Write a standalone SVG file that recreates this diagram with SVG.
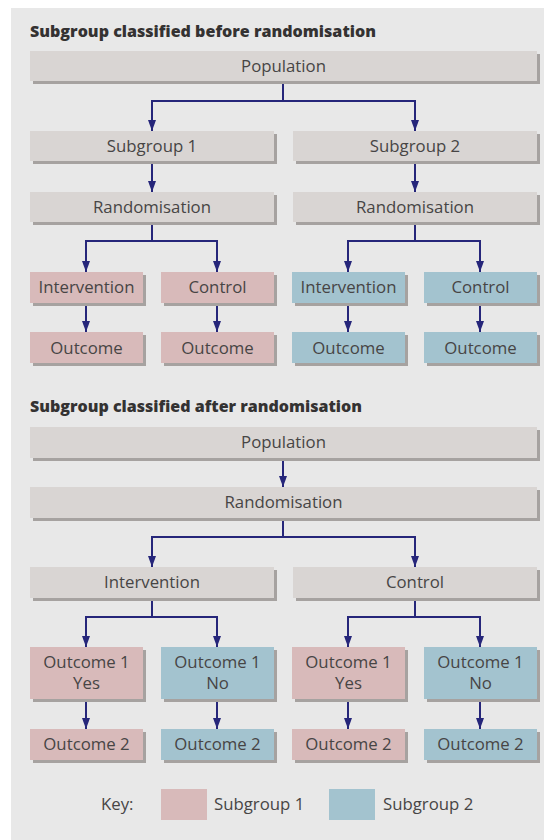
<svg xmlns="http://www.w3.org/2000/svg" width="544" height="840" viewBox="0 0 544 840">
<defs>
<marker id="ah" markerUnits="userSpaceOnUse" markerWidth="12" markerHeight="9" refX="11" refY="4" orient="auto" viewBox="0 0 12 8">
<path d="M0,0 L11,4 L0,8 Z" fill="#26267a"/>
</marker>
<style>
.bg{fill:#e8e8e8}
.sh{fill:#a6a2a0}
.g{fill:#d9d5d3}
.p{fill:#d8baba}
.b{fill:#a3c3cf}
.t{font-family:"Open Sans","Lato","Liberation Sans",sans-serif;font-size:16.8px;fill:#474545;text-anchor:middle}
.k{font-family:"Open Sans","Lato","Liberation Sans",sans-serif;font-size:16.8px;fill:#474545}
.h{font-family:"Open Sans","Liberation Sans",sans-serif;font-size:16px;font-weight:900;fill:#343232}
.c{fill:none;stroke:#26267a;stroke-width:2}
.a{fill:none;stroke:#26267a;stroke-width:2;marker-end:url(#ah)}
</style>
</defs>
<rect class="bg" x="11" y="8" width="533" height="832"/>
<text class="h" x="30" y="37" textLength="346" lengthAdjust="spacingAndGlyphs">Subgroup classified before randomisation</text>
<text class="h" x="30" y="412" textLength="332" lengthAdjust="spacingAndGlyphs">Subgroup classified after randomisation</text>

<g id="connectors">
<path class="c" d="M283,81 V101 M152,101 H415"/>
<path class="a" d="M152,100 V131"/>
<path class="a" d="M415,100 V131"/>
<path class="a" d="M152,161 V192"/>
<path class="a" d="M415,161 V192"/>
<path class="c" d="M152,222 V241 M86,241 H218"/>
<path class="a" d="M86,240 V272"/>
<path class="a" d="M217,240 V272"/>
<path class="c" d="M415,222 V241 M348,241 H481"/>
<path class="a" d="M348,240 V272"/>
<path class="a" d="M480,240 V272"/>
<path class="a" d="M86,303 V332"/>
<path class="a" d="M217,303 V332"/>
<path class="a" d="M348,303 V332"/>
<path class="a" d="M480,303 V332"/>
<path class="a" d="M283,458 V487"/>
<path class="c" d="M283,518 V537 M152,537 H415"/>
<path class="a" d="M152,536 V567"/>
<path class="a" d="M415,536 V567"/>
<path class="c" d="M152,598 V617 M86,617 H218"/>
<path class="a" d="M86,616 V647"/>
<path class="a" d="M217,616 V647"/>
<path class="c" d="M415,598 V617 M348,617 H481"/>
<path class="a" d="M348,616 V647"/>
<path class="a" d="M480,616 V647"/>
<path class="a" d="M86,699 V729"/>
<path class="a" d="M217,699 V729"/>
<path class="a" d="M348,699 V729"/>
<path class="a" d="M480,699 V729"/>
</g>

<g id="pop1"><rect class="sh" x="33" y="54" width="507" height="30"/><rect class="g" x="30" y="51" width="507" height="30"/><text class="t" x="283.5" y="72">Population</text></g>
<g id="sub1"><rect class="sh" x="33" y="134" width="244" height="30"/><rect class="g" x="30" y="131" width="244" height="30"/><text class="t" x="152" y="152">Subgroup 1</text></g>
<g id="sub2"><rect class="sh" x="296" y="134" width="244" height="30"/><rect class="g" x="293" y="131" width="244" height="30"/><text class="t" x="415" y="152">Subgroup 2</text></g>
<g id="rand1"><rect class="sh" x="33" y="195" width="244" height="30"/><rect class="g" x="30" y="192" width="244" height="30"/><text class="t" x="152" y="213">Randomisation</text></g>
<g id="rand2"><rect class="sh" x="296" y="195" width="244" height="30"/><rect class="g" x="293" y="192" width="244" height="30"/><text class="t" x="415" y="213">Randomisation</text></g>
<g id="int1"><rect class="sh" x="33" y="275" width="113" height="31"/><rect class="p" x="30" y="272" width="113" height="31"/><text class="t" x="86.5" y="293">Intervention</text></g>
<g id="ctl1"><rect class="sh" x="164" y="275" width="113" height="31"/><rect class="p" x="161" y="272" width="113" height="31"/><text class="t" x="217.5" y="293">Control</text></g>
<g id="int2"><rect class="sh" x="295" y="275" width="113" height="31"/><rect class="b" x="292" y="272" width="113" height="31"/><text class="t" x="348.5" y="293">Intervention</text></g>
<g id="ctl2"><rect class="sh" x="427" y="275" width="113" height="31"/><rect class="b" x="424" y="272" width="113" height="31"/><text class="t" x="480.5" y="293">Control</text></g>
<g id="out1"><rect class="sh" x="33" y="335" width="113" height="31"/><rect class="p" x="30" y="332" width="113" height="31"/><text class="t" x="86.5" y="354">Outcome</text></g>
<g id="out2"><rect class="sh" x="164" y="335" width="113" height="31"/><rect class="p" x="161" y="332" width="113" height="31"/><text class="t" x="217.5" y="354">Outcome</text></g>
<g id="out3"><rect class="sh" x="295" y="335" width="113" height="31"/><rect class="b" x="292" y="332" width="113" height="31"/><text class="t" x="348.5" y="354">Outcome</text></g>
<g id="out4"><rect class="sh" x="427" y="335" width="113" height="31"/><rect class="b" x="424" y="332" width="113" height="31"/><text class="t" x="480.5" y="354">Outcome</text></g>

<g id="pop2"><rect class="sh" x="33" y="430" width="507" height="31"/><rect class="g" x="30" y="427" width="507" height="31"/><text class="t" x="283.5" y="448">Population</text></g>
<g id="rand3"><rect class="sh" x="33" y="490" width="507" height="31"/><rect class="g" x="30" y="487" width="507" height="31"/><text class="t" x="283.5" y="508">Randomisation</text></g>
<g id="int3"><rect class="sh" x="33" y="570" width="244" height="31"/><rect class="g" x="30" y="567" width="244" height="31"/><text class="t" x="152" y="588">Intervention</text></g>
<g id="ctl3"><rect class="sh" x="296" y="570" width="244" height="31"/><rect class="g" x="293" y="567" width="244" height="31"/><text class="t" x="415" y="588">Control</text></g>
<g id="o1a"><rect class="sh" x="33" y="650" width="113" height="52"/><rect class="p" x="30" y="647" width="113" height="52"/><text class="t" x="86.5" y="668">Outcome 1</text><text class="t" x="86.5" y="689">Yes</text></g>
<g id="o1b"><rect class="sh" x="164" y="650" width="113" height="52"/><rect class="b" x="161" y="647" width="113" height="52"/><text class="t" x="217.5" y="668">Outcome 1</text><text class="t" x="217.5" y="689">No</text></g>
<g id="o1c"><rect class="sh" x="295" y="650" width="113" height="52"/><rect class="p" x="292" y="647" width="113" height="52"/><text class="t" x="348.5" y="668">Outcome 1</text><text class="t" x="348.5" y="689">Yes</text></g>
<g id="o1d"><rect class="sh" x="427" y="650" width="113" height="52"/><rect class="b" x="424" y="647" width="113" height="52"/><text class="t" x="480.5" y="668">Outcome 1</text><text class="t" x="480.5" y="689">No</text></g>
<g id="o2a"><rect class="sh" x="33" y="732" width="113" height="31"/><rect class="p" x="30" y="729" width="113" height="31"/><text class="t" x="86.5" y="750">Outcome 2</text></g>
<g id="o2b"><rect class="sh" x="164" y="732" width="113" height="31"/><rect class="b" x="161" y="729" width="113" height="31"/><text class="t" x="217.5" y="750">Outcome 2</text></g>
<g id="o2c"><rect class="sh" x="295" y="732" width="113" height="31"/><rect class="p" x="292" y="729" width="113" height="31"/><text class="t" x="348.5" y="750">Outcome 2</text></g>
<g id="o2d"><rect class="sh" x="427" y="732" width="113" height="31"/><rect class="b" x="424" y="729" width="113" height="31"/><text class="t" x="480.5" y="750">Outcome 2</text></g>

<g id="key">
<text class="k" x="101" y="810">Key:</text>
<rect class="p" x="161" y="789" width="46" height="31"/>
<text class="k" x="214" y="810">Subgroup 1</text>
<rect class="b" x="329" y="789" width="46" height="31"/>
<text class="k" x="383" y="810">Subgroup 2</text>
</g>
</svg>
